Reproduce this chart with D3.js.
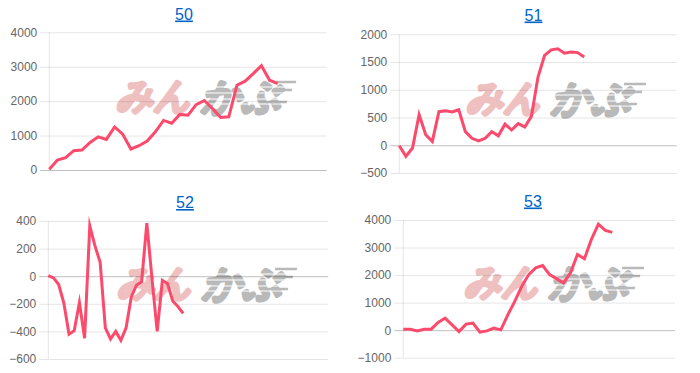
<!DOCTYPE html>
<html>
<head>
<meta charset="utf-8">
<script src="https://cdn.jsdelivr.net/npm/d3@7"></script>
<style>
  body { margin: 0; background: #fff; }
  svg text { font-family: "Liberation Sans", Arial, Helvetica, sans-serif; }
</style>
</head>
<body>
<div id="draw-area"></div>
<script>
// タイトル
const titles = ['50', '51', '52', '53'];
// x軸の枠数 (ラベルは非表示)
const slotCounts = [35, 43, 55, 40];
// y軸の目盛り
const yTicks50 = [0, 1000, 2000, 3000, 4000];
const yTicks51 = [-500, 0, 500, 1000, 1500, 2000];
const yTicks52 = [-600, -400, -200, 0, 200, 400];
const yTicks53 = [-1000, 0, 1000, 2000, 3000, 4000];
// 値
const series50 = [20, 290, 357, 560, 580, 800, 965, 890, 1250, 1040, 610, 705, 840, 1110, 1440, 1360, 1615, 1594, 1900, 2020, 1788, 1527, 1546, 2464, 2580, 2800, 3030, 2609, 2512];
const series51 = [-10, -200, -50, 550, 190, 70, 605, 620, 600, 640, 245, 125, 80, 125, 245, 170, 380, 275, 390, 330, 520, 1230, 1620, 1720, 1740, 1660, 1680, 1670, 1590];
const series52 = [5, -12, -60, -195, -420, -395, -190, -450, 365, 220, 100, -375, -455, -400, -465, -375, -150, -65, -40, 385, -20, -400, -30, -55, -180, -220, -270];
const series53 = [36, 36, -26, 36, 36, 277, 438, 193, -51, 219, 255, -73, -26, 73, 11, 558, 1044, 1591, 2018, 2263, 2347, 2018, 1872, 1715, 2080, 2748, 2591, 3296, 3850, 3620, 3550];

const yTickList = [yTicks50, yTicks51, yTicks52, yTicks53];
const seriesList = [series50, series51, series52, series53];

// 各チャートの配置
const layout = [
    { left: 49.3, right: 326.7, top: 32.3, bottom: 170, titleX: 184, titleY: 19.5, markX: 117, markY: 78 },
    { left: 399.3, right: 676.7, top: 34.3, bottom: 173, titleX: 533.5, titleY: 20.5, markX: 467, markY: 80 },
    { left: 48.3, right: 328.3, top: 221, bottom: 359, titleX: 185, titleY: 208, markX: 118, markY: 265 },
    { left: 403.3, right: 675, top: 220, bottom: 357.7, titleX: 533, titleY: 206.5, markX: 465, markY: 264 }
];

const svg = d3.select('#draw-area').append('svg')
    .attr('width', 700)
    .attr('height', 373);

function drawMark(g, p) {
    // 背景のロゴ
    let m = g.append('g').attr('transform', `translate(${p.markX},${p.markY}) skewX(-14)`);
    m.append('text')
        .attr('x', 7).attr('y', 30)
        .attr('font-family', '"Noto Sans CJK JP"')
        .attr('font-weight', 'bold')
        .attr('font-size', 36)
        .attr('fill', '#efc0c0')
        .attr('stroke', '#efc0c0')
        .attr('stroke-width', 3.5)
        .attr('stroke-linejoin', 'round')
        .text('みん');
    m.append('text')
        .attr('x', 93).attr('y', 31)
        .attr('font-family', '"Noto Sans CJK JP"')
        .attr('font-weight', 'bold')
        .attr('font-size', 38)
        .attr('fill', '#b9b9b9')
        .attr('stroke', '#b9b9b9')
        .attr('stroke-width', 3.5)
        .attr('stroke-linejoin', 'round')
        .text('かぶ');
    [9, 15, 21, 26].forEach(dy => {
        m.append('line')
            .attr('x1', 90).attr('x2', 176)
            .attr('y1', dy).attr('y2', dy)
            .attr('stroke', '#fff').attr('stroke-width', 1.2);
    });
    [[158, 180, 4], [160, 178, 12], [156, 176, 24]].forEach(s => {
        m.append('line')
            .attr('x1', s[0]).attr('x2', s[1])
            .attr('y1', s[2]).attr('y2', s[2])
            .attr('stroke', '#b9b9b9').attr('stroke-width', 2.5);
    });
}

function draw(i) {
    let p = layout[i],
        ticks = yTickList[i],
        data = seriesList[i],
        width = p.right - p.left;

    let x = d3.scalePoint().domain(d3.range(slotCounts[i])).range([p.left, p.right]);
    let y = d3.scaleLinear().domain(d3.extent(ticks)).range([p.bottom, p.top]);

    let g = svg.append('g');

    drawMark(g, p);

    //Y軸とグリッド
    let axis = g.append('g')
        .attr('transform', `translate(${p.left - 9},0)`)
        .call(d3.axisLeft(y).tickValues(ticks).tickFormat(d3.format('d'))
            .tickSize(-(width + 9)).tickPadding(3));
    axis.select('.domain').remove();
    axis.selectAll('.tick line')
        .attr('stroke', d => d === 0 ? 'rgba(0,0,0,0.25)' : 'rgba(0,0,0,0.1)');
    axis.selectAll('.tick text')
        .attr('fill', '#666')
        .attr('font-size', 12)
        .attr('font-family', '"Liberation Sans", Arial, sans-serif');

    g.append('line')
        .attr('x1', p.left).attr('x2', p.left)
        .attr('y1', p.top).attr('y2', p.bottom)
        .attr('stroke', 'rgba(0,0,0,0.1)');

    //線
    let line = d3.line().x((d, j) => x(j)).y(d => y(d));
    g.append('path')
        .datum(data)
        .attr('d', line)
        .attr('fill', 'none')
        .attr('stroke', '#fb4a6b')
        .attr('stroke-width', 3)
        .attr('stroke-linejoin', 'miter')
        .attr('stroke-miterlimit', 10);

    //タイトル
    g.append('text')
        .attr('x', p.titleX).attr('y', p.titleY)
        .attr('text-anchor', 'middle')
        .attr('font-size', 16)
        .attr('fill', '#0063c6')
        .attr('text-decoration', 'underline')
        .text(titles[i]);
}

titles.forEach((t, i) => draw(i));
</script>
</body>
</html>
